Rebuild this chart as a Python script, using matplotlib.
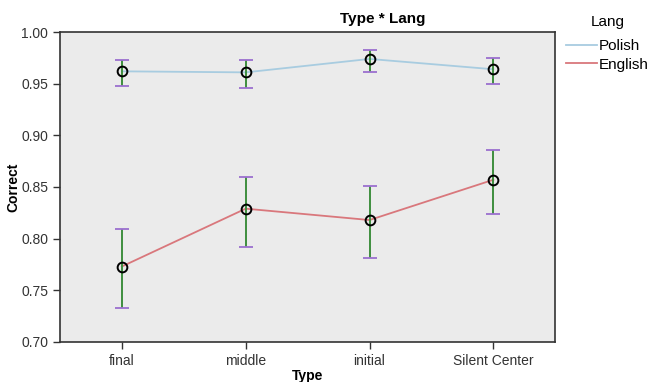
import numpy as np
import matplotlib
matplotlib.use("Agg")
import matplotlib.pyplot as plt

plt.rcParams['font.family'] = ['Liberation Sans', 'DejaVu Sans']

types = ["final", "middle", "initial", "Silent Center"]
yticks = [0.70, 0.75, 0.80, 0.85, 0.90, 0.95, 1.00]

polish_mean = [0.962, 0.961, 0.974, 0.964]
polish_lo = [0.948, 0.946, 0.961, 0.950]
polish_hi = [0.973, 0.973, 0.983, 0.975]

english_mean = [0.773, 0.829, 0.818, 0.857]
english_lo = [0.733, 0.792, 0.781, 0.824]
english_hi = [0.809, 0.860, 0.851, 0.886]

fig = plt.figure(figsize=(6.51, 3.82), dpi=100)
ax = fig.add_axes([0.092, 0.105, 0.761, 0.811])
ax.set_facecolor("#EBEBEB")

x = np.arange(len(types))


def draw_series(mean, lo, hi, color, label):
    mean = np.array(mean)
    err = [mean - np.array(lo), np.array(hi) - mean]
    ax.plot(x, mean, color=color, lw=1.3, label=label, zorder=2)
    eb = ax.errorbar(x, mean, yerr=err, fmt='none', ecolor="#3E8E3E",
                     elinewidth=1.4, capsize=5, capthick=1.3, zorder=3)
    for cap in eb[1]:
        cap.set_color("#9B6FCF")
        cap.set_markeredgecolor("#9B6FCF")
        cap.set_zorder(3.5)
    ax.plot(x, mean, 'o', ms=7, mfc='none', mec='black', mew=1.4, zorder=4)


draw_series(polish_mean, polish_lo, polish_hi, "#A8CCE0", "Polish")
draw_series(english_mean, english_lo, english_hi, "#D9777C", "English")

ax.set_xlim(-0.5, 3.5)
ax.set_ylim(0.70, 1.00)
ax.set_xticks(x)
ax.set_xticklabels(types, fontsize=10, color="#222222")
ax.set_yticks(yticks)
ax.set_yticklabels(["%.2f" % v for v in yticks], fontsize=10, color="#222222")
ax.tick_params(direction='out', length=5, width=1, colors="#333333")
for s in ax.spines.values():
    s.set_color("#333333")
    s.set_linewidth(1.2)

ax.set_xlabel("Type", fontsize=10, fontweight='bold')
ax.xaxis.set_label_coords(0.5, -0.087)
ax.set_ylabel("Correct", fontsize=10, fontweight='bold')
ax.yaxis.set_label_coords(-0.079, 0.5)
fig.text(383 / 651, 1 - 19 / 382, "Type * Lang", fontsize=11, fontweight='bold',
         ha='center', va='center')

# legend title drawn separately, centred over the entries
fig.text(608 / 651, 1 - 22 / 382, "Lang", fontsize=11, ha='center', va='center')
fig.legend(loc='upper left', bbox_to_anchor=(566 / 651, 1 - 39 / 382),
           frameon=False, fontsize=11, handlelength=2.0, handletextpad=0.15,
           labelspacing=0.3, borderaxespad=0, borderpad=0)

fig.savefig("out.png", dpi=100)
